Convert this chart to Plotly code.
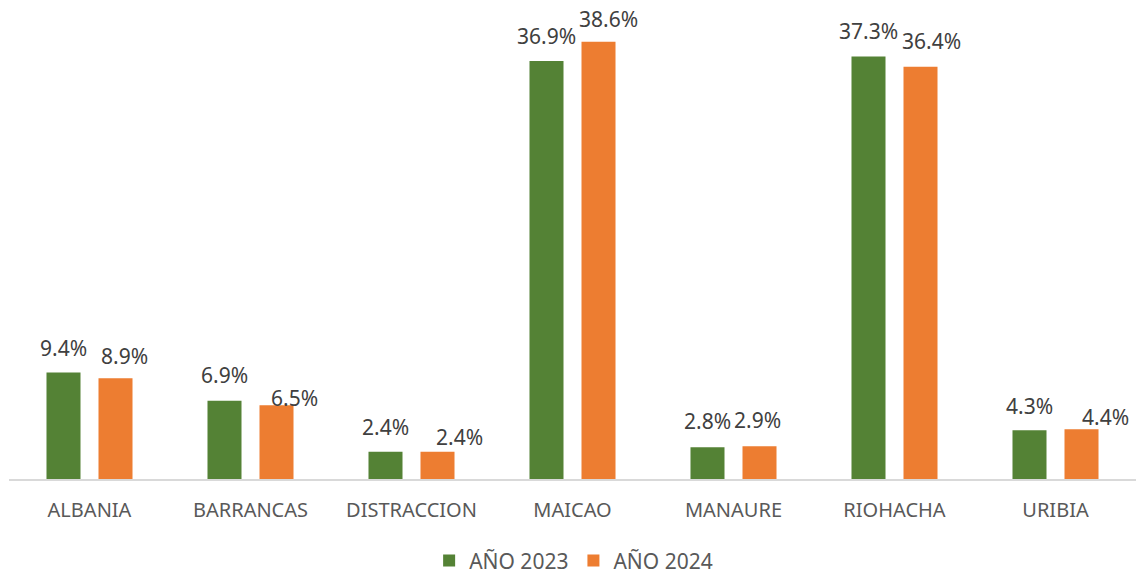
import plotly.graph_objects as go

categories = ["ALBANIA", "BARRANCAS", "DISTRACCION", "MAICAO", "MANAURE", "RIOHACHA", "URIBIA"]
values_2023 = [9.4, 6.9, 2.4, 36.9, 2.8, 37.3, 4.3]
values_2024 = [8.9, 6.5, 2.4, 38.6, 2.9, 36.4, 4.4]
series_names = ["AÑO 2023", "AÑO 2024"]

# label placement tweaks (pixels) mimicking the original manual label positions
label_dx_2023 = [0, 0, 0, 0, 0, 0, 0]
label_dy_2023 = [25, 26, 25, 25, 26, 25, 24]
label_dx_2024 = [9, 18, 22, 10, -2, 11, 24]
label_dy_2024 = [22, 7, 15, 23, 26, 26, 12]

FONT = "Noto Sans"
W, H = 1138, 573
ML, MR, MT, MB = 9, 2, 14, 94
BARGAP, BARGROUPGAP = 0.354, 0.346

colors = ["#548235", "#ED7D31"]
fig = go.Figure()
for name, vals, col in zip(series_names, [values_2023, values_2024], colors):
    fig.add_trace(go.Bar(x=categories, y=vals, name=name, marker_color=col,
                         marker_line_width=0, hoverinfo="skip"))

# offset of each bar centre from its category centre, in pixels
cat_px = (W - ML - MR) / len(categories)
bar_off = cat_px * (1 - BARGAP) / 4

annotations = []
for vals, dxs, dys, sign in [(values_2023, label_dx_2023, label_dy_2023, -1),
                             (values_2024, label_dx_2024, label_dy_2024, 1)]:
    for c, v, dx, dy in zip(categories, vals, dxs, dys):
        annotations.append(dict(
            x=c, y=v, xref="x", yref="y", text=f"{v:.1f}%", showarrow=False,
            xshift=sign * bar_off + dx, yshift=dy, yanchor="middle", xanchor="center",
            font=dict(family=FONT, size=21, color="#404040"),
        ))

fig.update_layout(
    width=W, height=H,
    margin=dict(l=ML, r=MR, t=MT, b=MB, autoexpand=False),
    paper_bgcolor="white", plot_bgcolor="white",
    barmode="group", bargap=BARGAP, bargroupgap=BARGROUPGAP,
    font=dict(family=FONT, size=20, color="#595959"),
    showlegend=True,
    legend=dict(orientation="h", x=0.501, xanchor="center", y=-0.176, yanchor="middle",
                font=dict(family=FONT, size=21, color="#595959"),
                traceorder="normal", itemwidth=30),
    annotations=annotations,
)
fig.update_xaxes(showline=True, linecolor="#D9D9D9", linewidth=2, ticks="",
                 tickfont=dict(family=FONT, size=20, color="#595959"), showgrid=False,
                 automargin=False, ticklabelstandoff=12)
fig.update_yaxes(range=[0, 41.05], visible=False, showgrid=False, zeroline=False,
                 automargin=False)

fig.write_html("out.html", config={"displayModeBar": False},
               post_script="document.body.style.margin='0';")
